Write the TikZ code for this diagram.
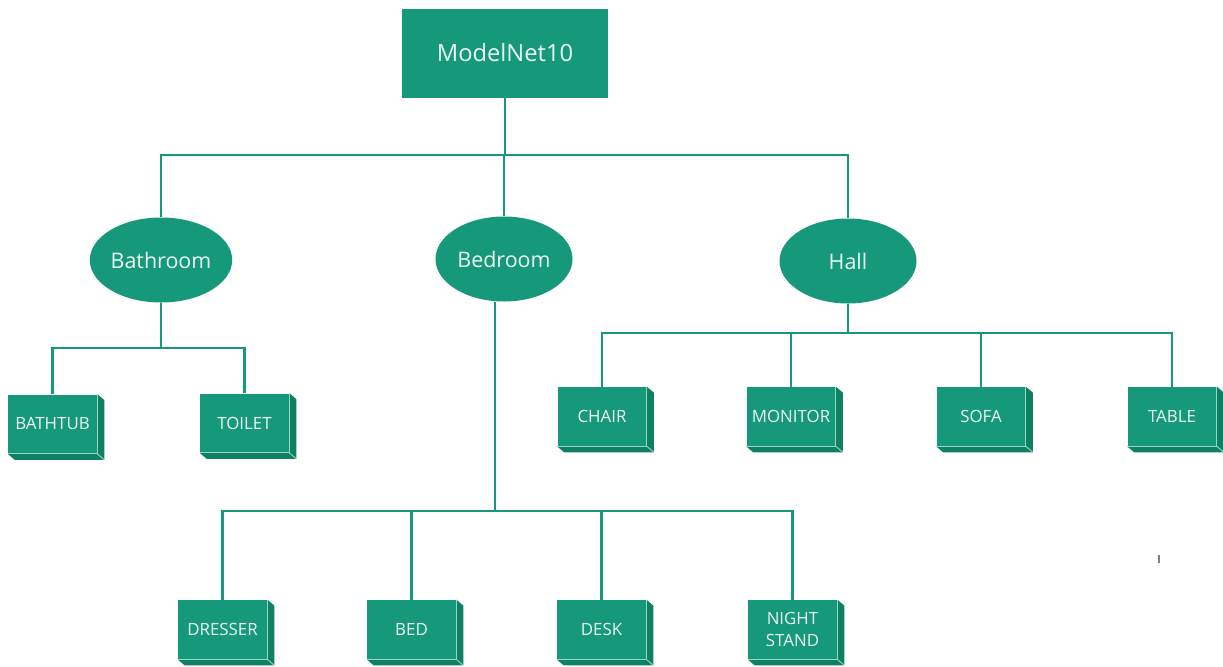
\documentclass[tikz,border=0pt]{standalone}
\usepackage{fontspec}
\setmainfont{Open Sans}
\usetikzlibrary{shapes.geometric,calc}
\definecolor{tealfill}{RGB}{21,153,122}
\definecolor{tealside}{RGB}{16,128,101}
\definecolor{tealedge}{RGB}{150,215,196}
\definecolor{labeltext}{RGB}{236,248,243}

% side and bottom faces of a 3-D box drawn behind node #1
\newcommand{\extrude}[1]{%
  \fill[tealside] (#1.north east) -- ++(7,6) -- ($(#1.south east)+(7,6)$)
    -- ($(#1.south west)+(7,6)$) -- (#1.south west) -- (#1.south east) -- cycle;
  \draw[tealedge, line width=0.5pt] (#1.north east) -- (#1.south east) -- (#1.south west);
  \draw[tealedge, line width=0.5pt] (#1.south east) -- ++(7,6);
}

\begin{document}
\begin{tikzpicture}[x=0.2mm, y=-0.2mm,
  rootbox/.style={fill=tealfill, minimum width=41.2mm, minimum height=17.8mm,
    inner sep=0pt, text=labeltext, font=\fontsize{13.5}{15}\selectfont},
  room/.style={ellipse, fill=tealfill, minimum width=27.4mm, minimum height=17mm,
    inner sep=0pt, text=labeltext, font=\fontsize{12.2}{14}\selectfont},
  item/.style={fill=tealfill, minimum width=17.8mm, minimum height=11.8mm,
    inner sep=0pt, align=center, text=labeltext,
    font=\fontsize{9.6}{12}\selectfont},
  link/.style={draw=tealfill, line width=1.3pt}]

\useasboundingbox (0,0) rectangle (1223,666);

% root and rooms
\node[rootbox] (root) at (505,53) {ModelNet10};
\node[room] (bath) at (161,260) {Bathroom};
\node[room] (bed)  at (504,259) {Bedroom};
\node[room] (hall) at (848,261) {Hall};

% bathroom items
\node[item] (bathtub) at (52.5,424) {BATHTUB};
\node[item] (toilet)  at (244.5,423) {TOILET};

% hall items
\node[item] (chair)   at (602,416.5) {CHAIR};
\node[item] (monitor) at (791,416.5) {MONITOR};
\node[item] (sofa)    at (981,416.5) {SOFA};
\node[item] (table)   at (1172,416.5) {TABLE};

% bedroom items
\node[item] (dresser) at (222.5,629.5) {DRESSER};
\node[item] (bedi)    at (411.5,629.5) {BED};
\node[item] (desk)    at (601.5,629.5) {DESK};
\node[item] (night)   at (792.5,629.5) {NIGHT\\STAND};

\foreach \n in {bathtub,toilet,chair,monitor,sofa,table,dresser,bedi,desk,night}
  {\extrude{\n}}

% connectors
\coordinate (bedout) at ($(bed.south)+(-9,0)$);
\foreach \c in {bath,bed,hall}
  \draw[link] (root.south) |- (505,155) -| (\c.north);
\foreach \c in {bathtub,toilet}
  \draw[link] (bath.south) |- (161,348) -| (\c.north);
\foreach \c in {chair,monitor,sofa,table}
  \draw[link] (hall.south) |- (848,333) -| (\c.north);
\foreach \c in {dresser,bedi,desk,night}
  \draw[link] (bedout) |- (495,511) -| (\c.north);

% small stray tick
\draw[gray, line width=0.6pt] (1159,555) -- (1159,563);
\end{tikzpicture}
\end{document}
